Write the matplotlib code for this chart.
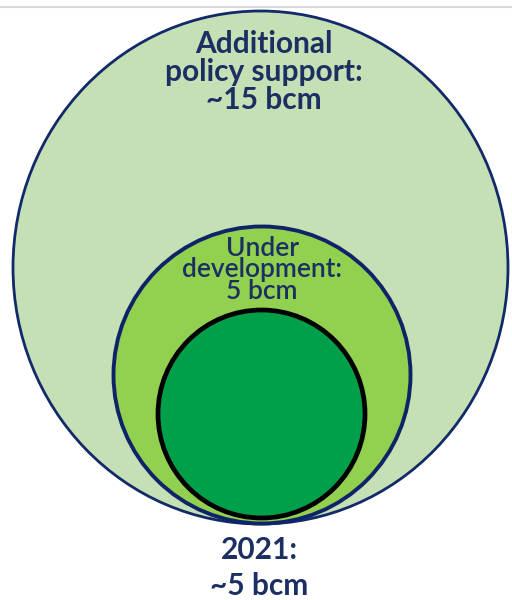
import matplotlib.pyplot as plt
from matplotlib.patches import Ellipse

# data
categories = ['Additional\npolicy support:', 'Under\ndevelopment:', '2021:']
bcm = [15, 5, 5]
approx = [True, False, True]

# layout (pixel coords of the 512x600 canvas): outer, middle, inner circle
centers = [(260.5, 267.5), (262, 375), (261.5, 414)]
sizes = [(495, 513), (297, 297), (207, 208)]
fills = ['#C5E0B4', '#92D050', '#00A04A']
edges = ['#12296A', '#0F2468', '#000000']
lws = [2.0, 2.8, 3.4]

navy = '#1B2F63'

fig = plt.figure(figsize=(5.12, 6.0), dpi=100)
ax = fig.add_axes([0, 0, 1, 1])
ax.set_xlim(0, 512)
ax.set_ylim(600, 0)
ax.axis('off')

# thin grey rule at the top
ax.axhline(7, color='#D9D9D9', lw=1.5)

for c, s, f, e, w in zip(centers, sizes, fills, edges, lws):
    ax.add_patch(Ellipse(c, s[0], s[1], facecolor=f, edgecolor=e, lw=w))

def lab(i):
    return categories[i] + '\n' + ('~' if approx[i] else '') + str(bcm[i]) + ' bcm'

ax.text(264, 72, lab(0), ha='center', va='center', fontsize=21.5,
        fontweight='bold', family='Lato', color=navy, linespacing=1.02)
ax.text(262, 270, lab(1), ha='center', va='center', fontsize=19,
        fontweight='semibold', family='Lato', color=navy, linespacing=0.84)
ax.text(259, 568, lab(2), ha='center', va='center', fontsize=21.5,
        fontweight='bold', family='Lato', color=navy, linespacing=1.32)

fig.savefig('out.png', dpi=100)
